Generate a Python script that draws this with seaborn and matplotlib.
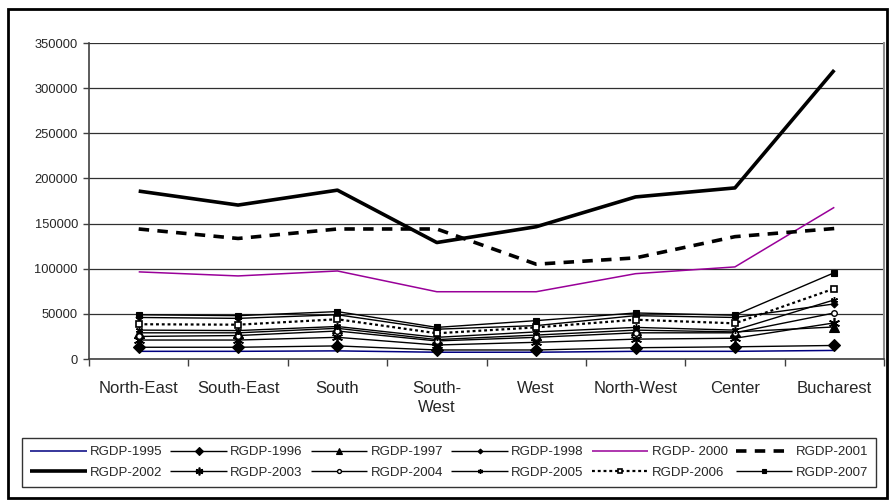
import matplotlib
matplotlib.use("Agg")
import matplotlib.pyplot as plt
from matplotlib.patches import Rectangle
from matplotlib.ticker import FixedLocator, NullFormatter
import seaborn as sns
import pandas as pd

regions = ["North-East", "South-East", "South", "South-\nWest", "West",
           "North-West", "Center", "Bucharest"]

rgdp_1995 = [8500, 8500, 9000, 7500, 7500, 8500, 8500, 9500]
rgdp_1996 = [13000, 13000, 14500, 10000, 10000, 12500, 13500, 15000]
rgdp_1997 = [29000, 29000, 34000, 21500, 26500, 32000, 30000, 35500]
rgdp_1998 = [46000, 45000, 49000, 33000, 37000, 48000, 46000, 61000]
rgdp_2000 = [96500, 92000, 97500, 74500, 74500, 94500, 102000, 168000]
rgdp_2001 = [144000, 133500, 144000, 144000, 105000, 112000, 135500, 144500]
rgdp_2002 = [186000, 170500, 187000, 129000, 146500, 179500, 189500, 320000]
rgdp_2003 = [21000, 21000, 24000, 15500, 18500, 22000, 23000, 40000]
rgdp_2004 = [25000, 26000, 31000, 20000, 24000, 29000, 29000, 51000]
rgdp_2005 = [32000, 31500, 36000, 24000, 30000, 35000, 32000, 65500]
rgdp_2006 = [38500, 38000, 44000, 28500, 35000, 43500, 39500, 78000]
rgdp_2007 = [49000, 48000, 52500, 35000, 42500, 51000, 48500, 95600]

series_names = ["RGDP-1995", "RGDP-1996", "RGDP-1997", "RGDP-1998", "RGDP- 2000",
                "RGDP-2001", "RGDP-2002", "RGDP-2003", "RGDP-2004", "RGDP-2005",
                "RGDP-2006", "RGDP-2007"]
series_values = [rgdp_1995, rgdp_1996, rgdp_1997, rgdp_1998, rgdp_2000, rgdp_2001,
                 rgdp_2002, rgdp_2003, rgdp_2004, rgdp_2005, rgdp_2006, rgdp_2007]

y_ticks = [0, 50000, 100000, 150000, 200000, 250000, 300000, 350000]

asterisk = (6, 2, 0)
styles = {
    "RGDP-1995": dict(color="#000080", lw=1.1, marker=None),
    "RGDP-1996": dict(color="black", lw=1.0, marker="D", ms=6.5),
    "RGDP-1997": dict(color="black", lw=1.0, marker="^", ms=7),
    "RGDP-1998": dict(color="black", lw=1.0, marker="D", ms=3.5),
    "RGDP- 2000": dict(color="#990099", lw=1.1, marker=None),
    "RGDP-2001": dict(color="black", lw=2.6, marker=None, dashes=(2.9, 2.3)),
    "RGDP-2002": dict(color="black", lw=2.6, marker=None),
    "RGDP-2003": dict(color="black", lw=1.0, marker=asterisk, ms=8, mew=1.2),
    "RGDP-2004": dict(color="black", lw=1.0, marker="o", ms=4, mfc="white", mew=1.0),
    "RGDP-2005": dict(color="black", lw=1.0, marker=asterisk, ms=5, mew=1.0),
    "RGDP-2006": dict(color="black", lw=1.6, marker="s", ms=4.5, mfc="white",
                      mew=1.2, dashes=(1.3, 1.3)),
    "RGDP-2007": dict(color="black", lw=1.0, marker="s", ms=5),
}

sns.set_style("white")
plt.rcParams["font.family"] = ["Liberation Sans", "DejaVu Sans"]

fig = plt.figure(figsize=(8.95, 5.01), dpi=100)
ax = fig.add_axes([89 / 895, 1 - 359 / 501, (884 - 89) / 895, (359 - 43) / 501])

positions = list(range(len(regions)))
for name, vals in zip(series_names, series_values):
    st = dict(styles[name])
    df = pd.DataFrame({"pos": positions, "value": vals})
    kw = dict(color=st["color"], linewidth=st["lw"], label=name)
    if st.get("marker") is not None:
        kw.update(marker=st["marker"], markersize=st.get("ms", 5),
                  markerfacecolor=st.get("mfc", "black"),
                  markeredgecolor="black", markeredgewidth=st.get("mew", 0.8))
    sns.lineplot(data=df, x="pos", y="value", ax=ax, **kw)
    line = ax.get_lines()[-1]
    if "dashes" in st:
        line.set_dashes(st["dashes"])
    line.set_solid_capstyle("butt")
    line.set_dash_capstyle("butt")

ax.set_xlim(-0.5, len(regions) - 0.5)
ax.set_ylim(0, 350000)
ax.set_yticks(y_ticks)
ax.set_yticklabels([str(v) for v in y_ticks], fontsize=9.3)
ax.set_xticks(positions)
ax.set_xticklabels(regions, fontsize=12, linespacing=1.35)
ax.xaxis.set_minor_locator(FixedLocator([p - 0.5 for p in range(len(regions) + 1)]))
ax.xaxis.set_minor_formatter(NullFormatter())
ax.tick_params(axis="x", which="major", length=0, pad=16)
ax.tick_params(axis="x", which="minor", length=5, width=1, color="#404040",
               direction="out", bottom=True)
ax.tick_params(axis="y", length=4, width=1, color="#404040", direction="out",
               left=True, pad=4)
ax.set_xlabel("")
ax.set_ylabel("")
ax.grid(axis="y", color="#303030", linewidth=0.9)
ax.set_axisbelow(True)
for side in ["left", "bottom"]:
    ax.spines[side].set_color("#404040")
    ax.spines[side].set_linewidth(1.2)
ax.spines["right"].set_color("#909090")
ax.spines["right"].set_linewidth(1.5)
ax.spines["top"].set_visible(False)

handles, labels = ax.get_legend_handles_labels()
if ax.get_legend() is not None:
    ax.get_legend().remove()
# legend fills row-wise: reorder for column-major layout
order = []
for c in range(6):
    order += [c, c + 6]
leg = fig.legend([handles[i] for i in order], [labels[i] for i in order],
                 loc="center", bbox_to_anchor=(449 / 895, 1 - 462.5 / 501),
                 ncol=6, fontsize=9.5, frameon=True, fancybox=False,
                 edgecolor="black", handlelength=4.3, handletextpad=0.25,
                 columnspacing=0.6, borderpad=0.6, labelspacing=0.65,
                 markerscale=0.7)
leg.get_frame().set_linewidth(1.0)

fig.add_artist(Rectangle((8 / 895, 3 / 501), 879 / 895, 489 / 501,
                         transform=fig.transFigure, fill=False,
                         edgecolor="black", linewidth=2))

fig.savefig("out.png", dpi=100)
